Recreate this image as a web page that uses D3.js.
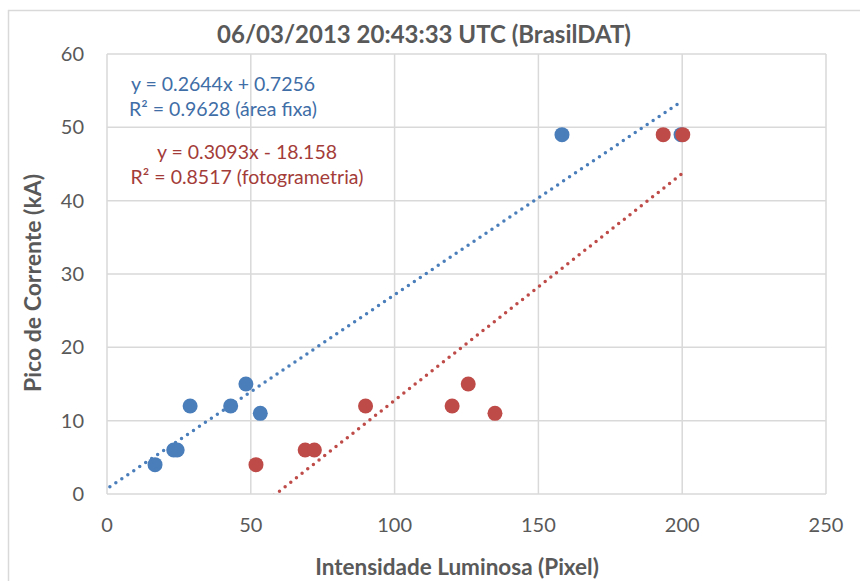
<!DOCTYPE html>
<html>
<head>
<meta charset="utf-8">
<script src="https://cdn.jsdelivr.net/npm/d3@7"></script>
<style>
  body { margin: 0; background: #fff; }
  text { font-family: Lato, "Open Sans", sans-serif; }
</style>
</head>
<body>
<div id="chart"></div>
<script>
// area fixa (blue) and fotogrametria (red) – intensity (pixel) vs peak current (kA)
const blueX = [16.7, 23.2, 24.4, 28.9, 43.0, 48.3, 53.3, 158.2, 199.6];
const blueY = [4, 6, 6, 12, 12, 15, 11, 49, 49];
const redX = [51.8, 68.9, 72.1, 89.9, 120.0, 125.6, 134.9, 193.4, 200.2];
const redY = [4, 6, 6, 12, 12, 15, 11, 49, 49];

// trendline coefficients as shown on the chart
const blueFit = [0.2644, 0.7256];
const redFit = [0.3093, -18.158];
const blueLabels = ["y = 0.2644x + 0.7256", "R² = 0.9628 (área fixa)"];
const redLabels = ["y = 0.3093x - 18.158", "R² = 0.8517 (fotogrametria)"];

const xTicks = [0, 50, 100, 150, 200, 250];
const yTicks = [0, 10, 20, 30, 40, 50, 60];

const width = 860, height = 581;
const margin = {top: 54, right: 34, bottom: 87, left: 107};
const blue = "#4a7ebb", red = "#be4b48";

const svg = d3.select("#chart")
              .append("svg")
              .attr("width", width)
              .attr("height", height);

// outer chart border
svg.append("rect")
   .attr("x", 8.5).attr("y", 10.5)
   .attr("width", width).attr("height", height)
   .attr("fill", "none")
   .attr("stroke", "#d9d9d9")
   .attr("stroke-width", 1.5);

const x = d3.scaleLinear().domain([0, 250]).range([margin.left, width - margin.right]);
const y = d3.scaleLinear().domain([0, 60]).range([height - margin.bottom, margin.top]);

// gridlines
svg.append("g").selectAll("line")
   .data(xTicks)
   .enter().append("line")
   .attr("x1", d => x(d)).attr("x2", d => x(d))
   .attr("y1", y(0)).attr("y2", y(60))
   .attr("stroke", "#d9d9d9").attr("stroke-width", 1.5);

svg.append("g").selectAll("line")
   .data(yTicks)
   .enter().append("line")
   .attr("x1", x(0)).attr("x2", x(250))
   .attr("y1", d => y(d)).attr("y2", d => y(d))
   .attr("stroke", "#d9d9d9").attr("stroke-width", 1.5);

// tick labels
svg.append("g").selectAll("text")
   .data(yTicks)
   .enter().append("text")
   .attr("x", x(0) - 23)
   .attr("y", d => y(d) + 7)
   .attr("text-anchor", "end")
   .attr("font-size", 20)
   .attr("fill", "#595959")
   .text(d => d);

svg.append("g").selectAll("text")
   .data(xTicks)
   .enter().append("text")
   .attr("x", d => x(d))
   .attr("y", y(0) + 38)
   .attr("text-anchor", "middle")
   .attr("font-size", 20)
   .attr("fill", "#595959")
   .text(d => d);

// titles
svg.append("text")
   .attr("x", 424).attr("y", 43)
   .attr("text-anchor", "middle")
   .attr("font-size", 24).attr("font-weight", "bold")
   .attr("fill", "#595959")
   .text("06/03/2013 20:43:33 UTC (BrasilDAT)");

svg.append("text")
   .attr("x", 457).attr("y", 575)
   .attr("text-anchor", "middle")
   .attr("font-size", 22.5).attr("font-weight", "bold")
   .attr("fill", "#595959")
   .text("Intensidade Luminosa (Pixel)");

svg.append("text")
   .attr("transform", "translate(41,283) rotate(-90)")
   .attr("text-anchor", "middle")
   .attr("font-size", 23).attr("font-weight", "bold")
   .attr("fill", "#595959")
   .text("Pico de Corrente (kA)");

// trendlines, clipped to the plot area
svg.append("clipPath").attr("id", "plot")
   .append("rect")
   .attr("x", x(0)).attr("y", y(60))
   .attr("width", x(250) - x(0)).attr("height", y(0) - y(60));

const trend = function(fit, color) {
    const line = d3.line()
                   .x(d => x(d))
                   .y(d => y(fit[0] * d + fit[1]));
    svg.append("path")
       .datum([1, 200])
       .attr("clip-path", "url(#plot)")
       .attr("d", line)
       .attr("fill", "none")
       .attr("stroke", color)
       .attr("stroke-width", 3.5)
       .attr("stroke-linecap", "round")
       .attr("stroke-dasharray", "0 7.2");
};

// points
const dots = function(xs, ys, color) {
    svg.append("g").selectAll("circle")
       .data(xs)
       .enter().append("circle")
       .attr("cx", d => x(d))
       .attr("cy", (d, i) => y(ys[i]))
       .attr("r", 7.5)
       .attr("fill", color);
};

dots(blueX, blueY, blue);
dots(redX, redY, red);
trend(blueFit, blue);
trend(redFit, red);

// equation labels
const label = function(lines, cx, top, color) {
    svg.append("g").selectAll("text")
       .data(lines)
       .enter().append("text")
       .attr("x", cx)
       .attr("y", (d, i) => top + i * 25)
       .attr("text-anchor", "middle")
       .attr("font-size", 19.5)
       .attr("fill", color)
       .text(d => d);
};

label(blueLabels, 223, 91, "#3f6ea7");
label(redLabels, 247, 159, "#a33c39");
</script>
</body>
</html>
